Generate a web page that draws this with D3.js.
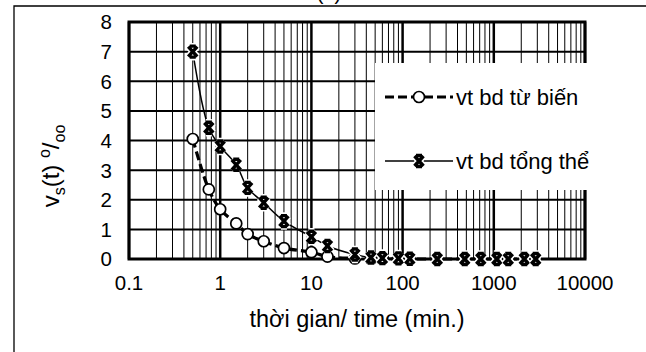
<!DOCTYPE html>
<html><head><meta charset="utf-8">
<script src="https://cdn.jsdelivr.net/npm/d3@7"></script>
<style>body{margin:0;background:#fff}svg{display:block;font-family:Arial,"Liberation Sans",sans-serif}</style>
</head><body><svg id="c" width="646" height="352"></svg>
<script>
const timeX = [0.5, 0.75, 1, 1.5, 2, 3, 5, 10, 15, 30, 45, 60, 90, 120, 240, 480, 720, 1080, 1440, 2160, 2880];
const creep = [4.05, 2.35, 1.68, 1.2, 0.84, 0.6, 0.37, 0.23, 0.08, 0.02, 0, 0, 0, 0, 0, 0, 0, 0, 0, 0, 0];
const total = [7.0, 4.43, 3.8, 3.18, 2.4, 1.9, 1.28, 0.75, 0.44, 0.15, 0.05, 0.03, 0.02, 0.01, 0, 0, 0, 0, 0, 0, 0];
const xTicks = [0.1, 1, 10, 100, 1000, 10000];
const xTickLabels = ["0.1", "1", "10", "100", "1000", "10000"];
const yTicks = [0, 1, 2, 3, 4, 5, 6, 7, 8];
const seriesNames = ["vt bd từ biến", "vt bd tổng thể"];

const svg = d3.select("#c");
const x = d3.scaleLog().domain([0.1, 10000]).range([129, 585]);
const y = d3.scaleLinear().domain([0, 8]).range([259, 22]);

// outer frame
svg.append("path").attr("d", "M14,352V6H646").attr("fill", "none").attr("stroke", "#000").attr("stroke-width", 1.3);
svg.append("text").attr("x", 329).attr("y", 0).attr("text-anchor", "middle").attr("font-size", 20).text("(a)");

// minor vertical gridlines
const minor = [];
for (let e = -1; e < 4; e++) for (let k = 2; k <= 9; k++) minor.push(k * Math.pow(10, e));
const g = svg.append("g");
g.selectAll(".mn").data(minor).join("line")
  .attr("x1", d => x(d)).attr("x2", d => x(d)).attr("y1", y(8)).attr("y2", y(0))
  .attr("stroke", "#000").attr("stroke-width", 1);
g.selectAll(".mj").data(xTicks).join("line")
  .attr("x1", d => x(d)).attr("x2", d => x(d)).attr("y1", y(8)).attr("y2", y(0))
  .attr("stroke", "#000").attr("stroke-width", 2.5);
g.selectAll(".hy").data(yTicks).join("line")
  .attr("x1", x(0.1)).attr("x2", x(10000)).attr("y1", d => y(d)).attr("y2", d => y(d))
  .attr("stroke", "#000").attr("stroke-width", 2);
svg.append("rect").attr("x", x(0.1)).attr("y", y(8)).attr("width", x(10000) - x(0.1)).attr("height", y(0) - y(8))
  .attr("fill", "none").attr("stroke", "#000").attr("stroke-width", 3);

// legend box (covers grid)
svg.append("rect").attr("x", 375).attr("y", 63).attr("width", 222).attr("height", 127).attr("fill", "#fff");

// axes labels
svg.append("g").selectAll("text").data(yTicks).join("text")
  .attr("x", 112).attr("y", d => y(d)).attr("dy", "0.36em").attr("text-anchor", "end")
  .attr("font-size", 20.5).text(d => d);
svg.append("g").selectAll("text").data(xTicks).join("text")
  .attr("x", d => x(d)).attr("y", 290).attr("text-anchor", "middle")
  .attr("font-size", 20.5).text((d, i) => xTickLabels[i]);
svg.append("text").attr("x", 357).attr("y", 327).attr("text-anchor", "middle").attr("font-size", 23.5)
  .text("thời gian/ time (min.)");
const yl = svg.append("text").attr("transform", "translate(59,166) rotate(-90)").attr("text-anchor", "middle").attr("font-size", 24);
yl.append("tspan").text("v");
yl.append("tspan").attr("dy", 6).attr("font-size", 16).text("s");
yl.append("tspan").attr("dy", -6).text("(t) ");
yl.append("tspan").attr("dy", -9).attr("font-size", 16).text("o");
yl.append("tspan").attr("dy", 9).text("/");
yl.append("tspan").attr("dy", 6).attr("font-size", 16).text("oo");

// lines
const pts = (vals) => timeX.map((t, i) => [t, vals[i]]);
const line = d3.line().x(d => x(d[0])).y(d => y(d[1])).curve(d3.curveCatmullRom.alpha(0.5));
svg.append("path").datum(pts(creep)).attr("d", line).attr("fill", "none").attr("stroke", "#000")
  .attr("stroke-width", 3.2).attr("stroke-dasharray", "9,4");
svg.append("path").datum(pts(total)).attr("d", line).attr("fill", "none").attr("stroke", "#000")
  .attr("stroke-width", 1.5);

const xMark = "M-3,-5.5H3M-3,5.5H3M-4.5,-5L4.5,5M4.5,-5L-4.5,5";
function drawCircle(sel, cx, cy) {
  sel.append("circle").attr("cx", cx).attr("cy", cy).attr("r", 5.5).attr("fill", "#fff").attr("stroke", "#000").attr("stroke-width", 1.7);
}
function drawX(sel, cx, cy) {
  sel.append("path").attr("d", xMark).attr("transform", `translate(${cx},${cy})`).attr("fill", "none").attr("stroke", "#fff").attr("stroke-width", 6.5);
  sel.append("path").attr("d", xMark).attr("transform", `translate(${cx},${cy})`).attr("fill", "none").attr("stroke", "#000").attr("stroke-width", 3.4);
}
const mk = svg.append("g");
pts(creep).forEach(d => drawCircle(mk, x(d[0]), y(d[1])));
pts(total).forEach(d => drawX(mk, x(d[0]), y(d[1])));

// legend
const lg = svg.append("g");
lg.append("line").attr("x1", 385).attr("x2", 453).attr("y1", 97).attr("y2", 97).attr("stroke", "#000").attr("stroke-width", 3.2).attr("stroke-dasharray", "9,4");
drawCircle(lg, 419, 97);
lg.append("text").attr("x", 456).attr("y", 97).attr("dy", "0.36em").attr("font-size", 22).text(seriesNames[0]);
lg.append("line").attr("x1", 385).attr("x2", 453).attr("y1", 161).attr("y2", 161).attr("stroke", "#000").attr("stroke-width", 1.5);
drawX(lg, 419, 161);
lg.append("text").attr("x", 456).attr("y", 161).attr("dy", "0.36em").attr("font-size", 22).text(seriesNames[1]);
</script></body></html>
